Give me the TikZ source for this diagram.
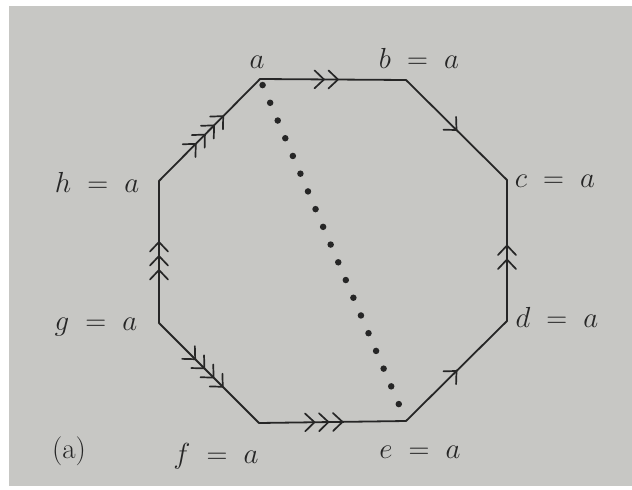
\RequirePackage{fix-cm}
\documentclass[tikz,border=0pt]{standalone}
\usetikzlibrary{decorations.markings,calc}
\definecolor{paper}{RGB}{199,199,196}
\definecolor{ink}{RGB}{38,38,38}
\newcommand\chevat[1]{\draw[ink,line width=1.7pt,line join=miter,shift={(#1,0pt)}] (-9.5pt,9pt) -- (0pt,0pt) -- (-9.5pt,-9pt);}
\tikzset{
  edge/.style={draw=ink,line width=1.8pt,line cap=round},
  one/.style={postaction={decorate,decoration={markings,mark=at position 0.5 with {\chevat{0pt}}}}},
  two/.style={postaction={decorate,decoration={markings,mark=at position 0.5 with {\chevat{5pt}\chevat{-9pt}}}}},
  three/.style={postaction={decorate,decoration={markings,mark=at position 0.5 with {\chevat{10pt}\chevat{-4pt}\chevat{-18pt}}}}},
  four/.style={postaction={decorate,decoration={markings,mark=at position 0.5 with {\chevat{19.5pt}\chevat{6.5pt}\chevat{-6.5pt}\chevat{-19.5pt}}}}},
  dotline/.style={draw=ink,line width=6.5pt,line cap=round,dash pattern=on 0pt off 19.27pt,shorten <=6.6pt,shorten >=18.4pt},
  lab/.style={anchor=base,inner sep=0pt,text=ink,font=\fontsize{29}{34}\selectfont}
}
\begin{document}
\begin{tikzpicture}[x=1pt,y=-1pt]
\fill[white] (0,0) rectangle (632,490);
\fill[paper] (9,6) rectangle (632,486);
\useasboundingbox (0,0) rectangle (632,490);
\coordinate (A) at (260,79);
\coordinate (B) at (406,80);
\coordinate (C) at (507,180);
\coordinate (D) at (507,321);
\coordinate (E) at (406,421);
\coordinate (F) at (259,423);
\coordinate (G) at (159,323);
\coordinate (H) at (159,181);
\draw[edge,two] (A) -- (B);
\draw[edge,one] (B) -- (C);
\draw[edge,two] (D) -- (C);
\draw[edge,one] (E) -- (D);
\draw[edge,three] (F) -- (E);
\draw[edge,four] (G) -- (F);
\draw[edge,three] (G) -- (H);
\draw[edge,four] (H) -- (A);
\draw[dotline] (A) -- (E);
\node[lab] (la) at (257,68) {$a$};
\node[lab] (lb) at (419,68) {$b\;=\;a$};
\node[lab] (lc) at (555,187) {$c\;=\;a$};
\node[lab] (ld) at (557,327) {$d\;=\;a$};
\node[lab] (le) at (420,458) {$e\;=\;a$};
\node[lab] (lf) at (216,463) {$f\;=\;a$};
\node[lab] (lg) at (96,330) {$g\;=\;a$};
\node[lab] (lh) at (97,192) {$h\;=\;a$};
\node[lab] (cap) at (69,458) {(a)};
\end{tikzpicture}
\end{document}
